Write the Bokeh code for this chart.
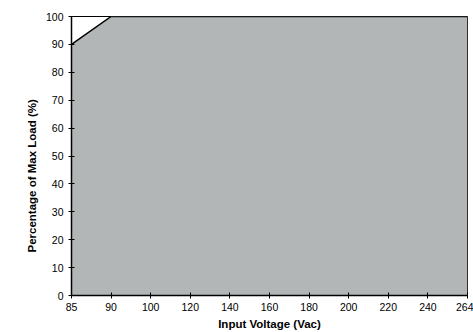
from bokeh.plotting import figure
from bokeh.models import Range1d, FixedTicker, Title
from bokeh.embed import file_html
from bokeh.resources import INLINE

voltages = ["85", "90", "100", "120", "140", "160", "180", "200", "220", "240", "264"]
load_pct = [90, 100, 100, 100, 100, 100, 100, 100, 100, 100, 100]
y_ticks = [0, 10, 20, 30, 40, 50, 60, 70, 80, 90, 100]

idx = list(range(len(voltages)))

p = figure(width=473, height=332, output_backend="svg", toolbar_location=None,
           x_range=Range1d(0, len(voltages) - 1), y_range=Range1d(0, 100),
           min_border_left=71, min_border_right=6, min_border_top=16, min_border_bottom=37)

p.varea(x=idx, y1=[0] * len(idx), y2=load_pct, fill_color="#b3b6b7")
p.line(x=idx, y=load_pct, line_color="black", line_width=1.5)

p.xgrid.visible = False
p.ygrid.visible = False
p.outline_line_color = "black"
p.outline_line_width = 1
p.background_fill_color = "white"
p.border_fill_color = "white"

p.xaxis.ticker = FixedTicker(ticks=idx)
p.xaxis.major_label_overrides = {i: v for i, v in zip(idx, voltages)}
p.yaxis.ticker = FixedTicker(ticks=y_ticks)

for ax in (p.xaxis, p.yaxis):
    ax.axis_line_color = "black"
    ax.axis_line_width = 1.5
    ax.major_tick_in = 3
    ax.major_tick_out = 3
    ax.major_tick_line_color = "black"
    ax.minor_tick_line_color = None
    ax.major_label_text_font = "Liberation Sans"
    ax.major_label_text_font_size = "10.5px"
    ax.major_label_text_color = "black"
    ax.axis_label_text_font = "Liberation Sans"
    ax.axis_label_text_font_size = "11.5px"
    ax.axis_label_text_font_style = "bold"
    ax.axis_label_text_color = "black"

p.xaxis.major_label_standoff = 4
p.xaxis.axis_label = "Input Voltage (Vac)"
p.xaxis.axis_label_standoff = 4
p.yaxis.major_label_standoff = 5

ytitle = Title(text="Percentage of Max Load (%)", align="left", offset=43,
               text_font="Liberation Sans", text_font_size="11.5px",
               text_font_style="bold", text_color="black", standoff=10)
p.add_layout(ytitle, "left")

open("out.html", "w").write(file_html(p, INLINE))
